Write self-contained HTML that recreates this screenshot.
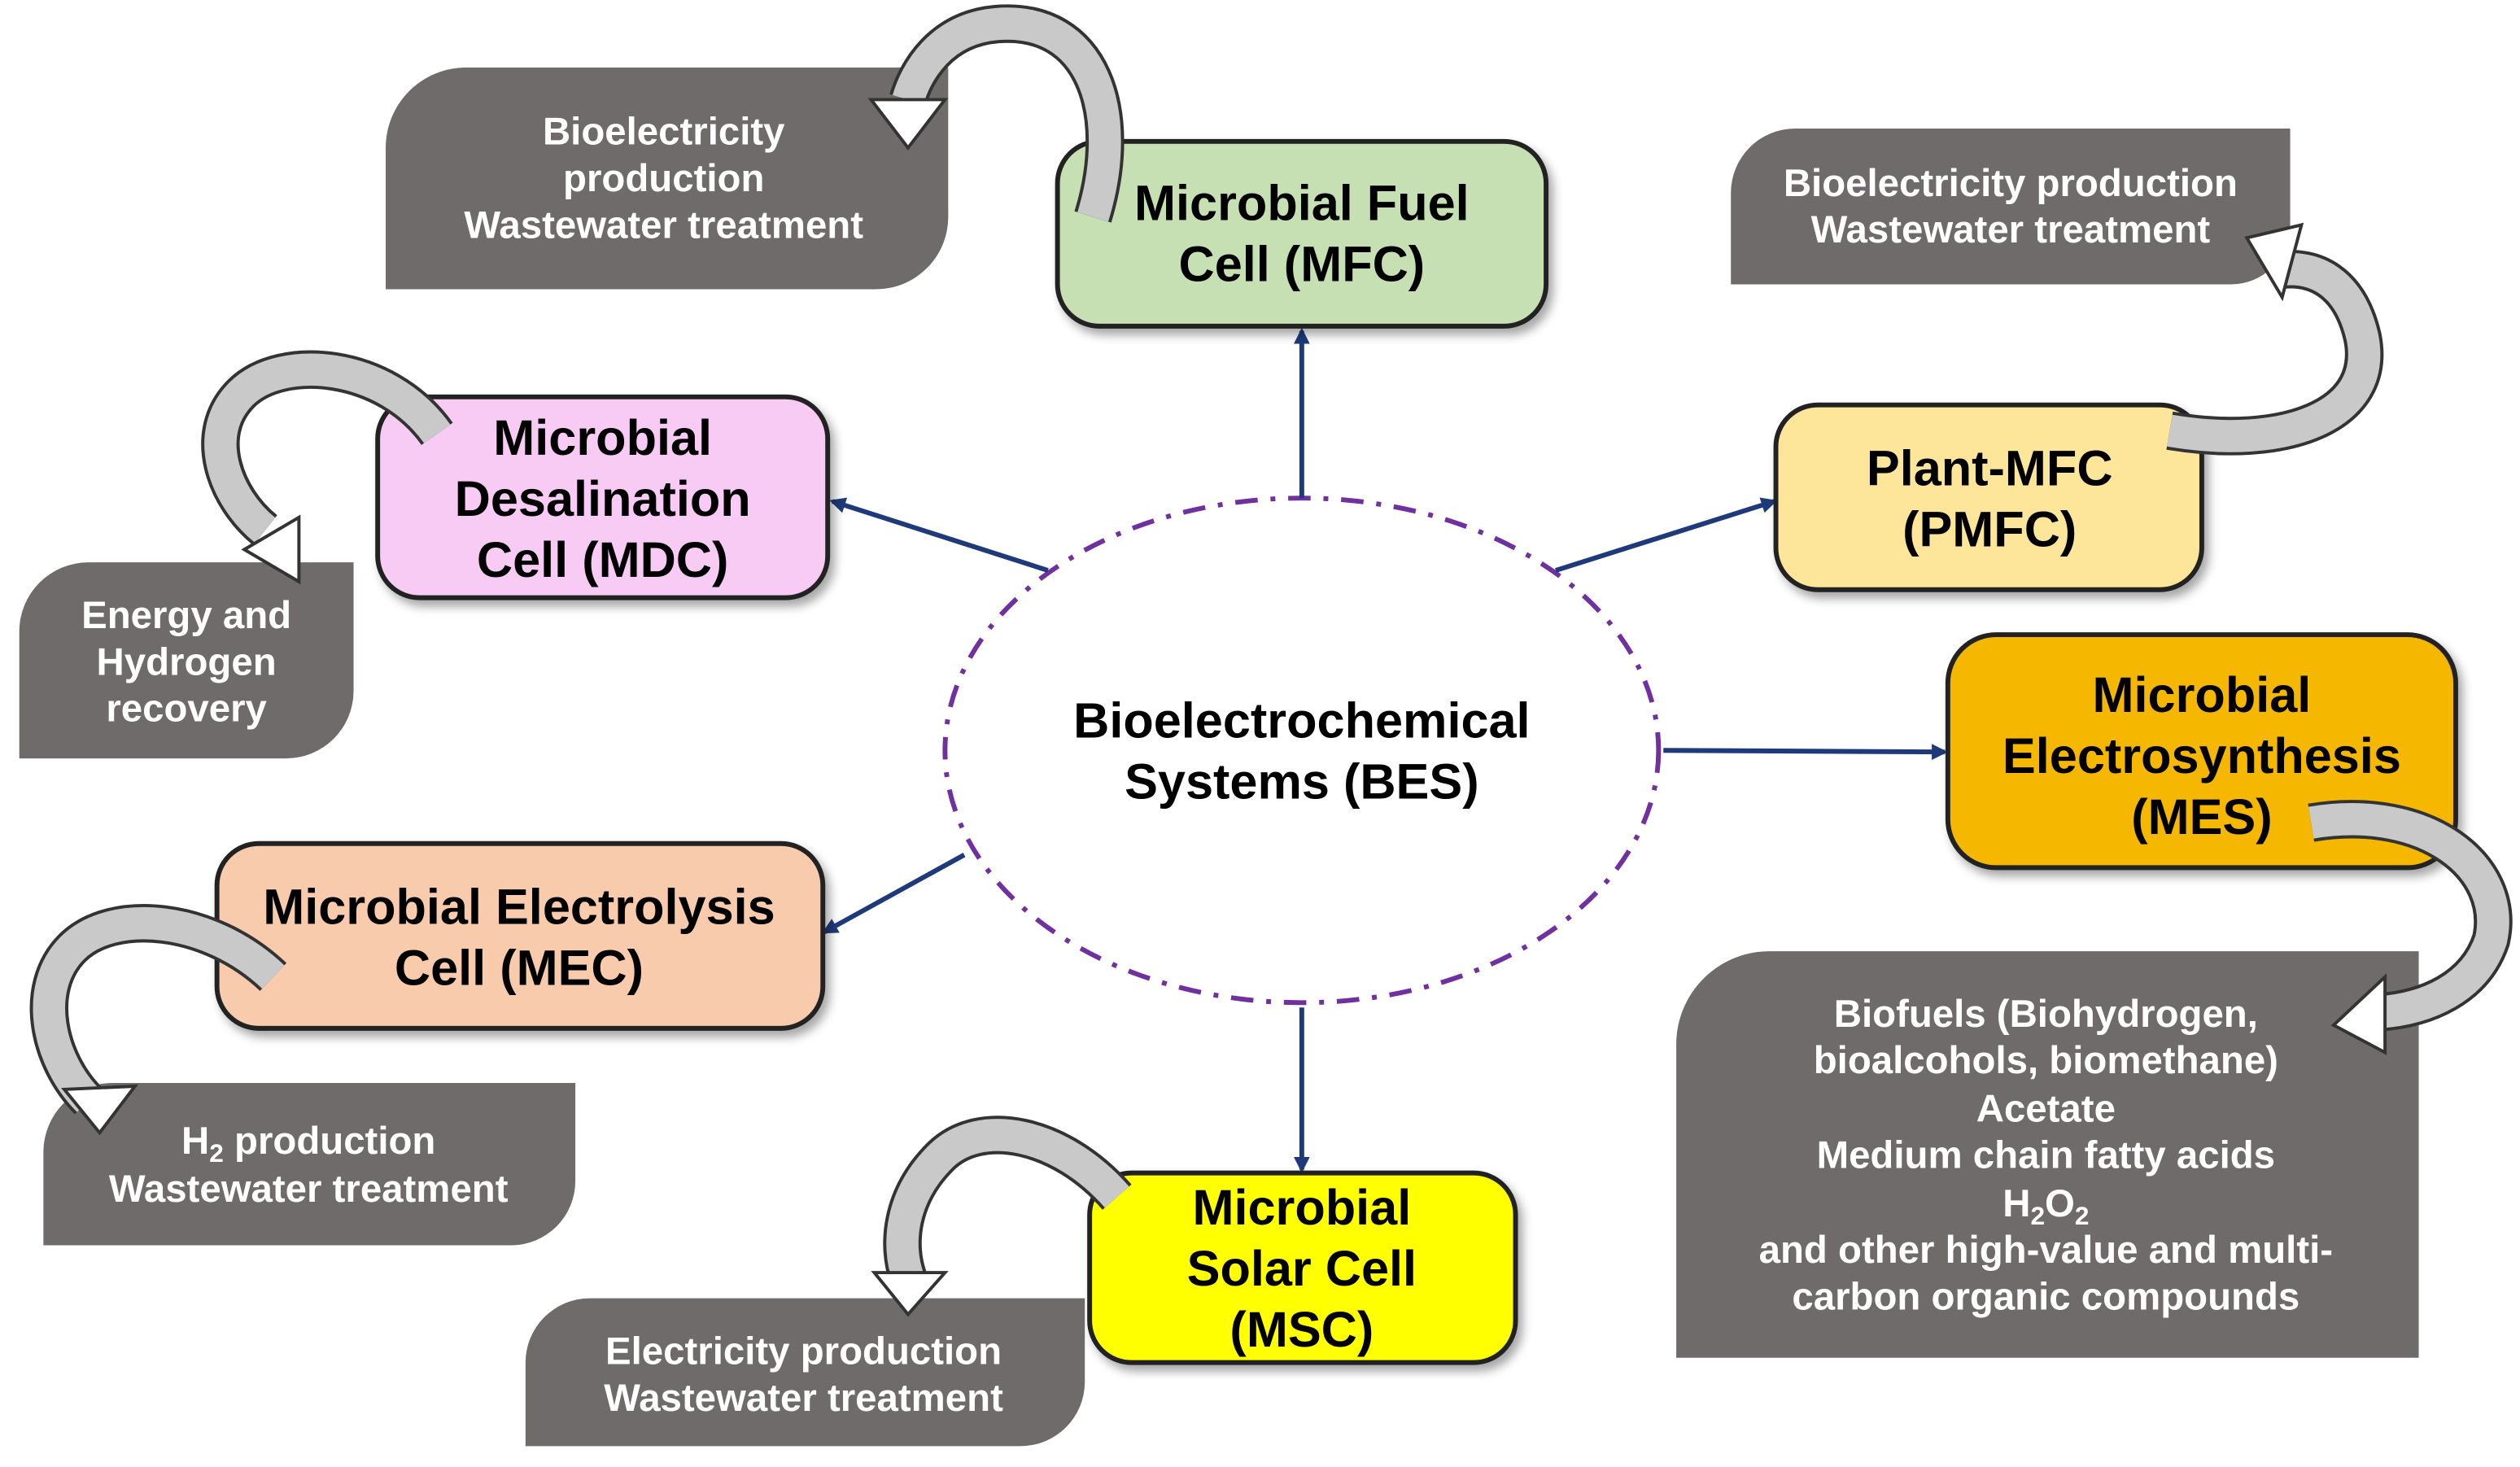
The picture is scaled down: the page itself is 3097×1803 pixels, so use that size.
<!DOCTYPE html>
<html><head><meta charset="utf-8">
<style>
html,body{margin:0;padding:0;background:#fff;}
svg{display:block;}
text{font-family:"Liberation Sans",Arial,sans-serif;font-weight:bold;}
.w{fill:#fff;font-size:24px;text-anchor:middle;}
.b{fill:#000;font-size:31px;text-anchor:middle;}
.box{stroke:#222;stroke-width:3;}
.g{fill:#6f6b6b;}
.ar{stroke:#1f3a7a;stroke-width:3;fill:none;marker-end:url(#ah);}
.cb{fill:none;stroke:#333;stroke-width:24;}
.cf{fill:none;stroke:#c9c9c9;stroke-width:20;}
.hd{fill:#fff;stroke:#333;stroke-width:2;}
</style></head><body>
<svg width="3097" height="1803" viewBox="0 0 1568 913" preserveAspectRatio="none" xmlns="http://www.w3.org/2000/svg">
<defs>
<marker id="ah" markerWidth="10" markerHeight="10" refX="8" refY="5" orient="auto" markerUnits="userSpaceOnUse">
<path d="M0,0 L10,5 L0,10 z" fill="#1f3a7a"/></marker>
<filter id="sh" x="-10%" y="-10%" width="130%" height="130%"><feDropShadow dx="3" dy="4" stdDeviation="3" flood-opacity="0.35"/></filter>
</defs>

<path class="g" d="M290,42 H590 V135 A45,45 0 0 1 545,180 H240 V92 A50,50 0 0 1 290,42 Z"/>
<text class="w" x="413" y="90">Bioelectricity</text>
<text class="w" x="413" y="119">production</text>
<text class="w" x="413" y="148">Wastewater treatment</text>

<path class="g" d="M55,350 H220 V430 A42,42 0 0 1 178,472 H12 V393 A43,43 0 0 1 55,350 Z"/>
<text class="w" x="116" y="391">Energy and</text>
<text class="w" x="116" y="420">Hydrogen</text>
<text class="w" x="116" y="449">recovery</text>

<path class="g" d="M1117,80 H1425 V140 A37,37 0 0 1 1388,177 H1077 V120 A40,40 0 0 1 1117,80 Z"/>
<text class="w" x="1251" y="122">Bioelectricity production</text>
<text class="w" x="1251" y="151">Wastewater treatment</text>

<path class="g" d="M1100,592 H1505 V845 H1043 V650 A58,58 0 0 1 1100,592 Z"/>
<text class="w" x="1273" y="639">Biofuels (Biohydrogen,</text>
<text class="w" x="1273" y="668">bioalcohols, biomethane)</text>
<text class="w" x="1273" y="698">Acetate</text>
<text class="w" x="1273" y="727">Medium chain fatty acids</text>
<text class="w" x="1273" y="757">H<tspan font-size="16" dy="5">2</tspan><tspan dy="-5">O</tspan><tspan font-size="16" dy="5">2</tspan></text>
<text class="w" x="1273" y="786">and other high-value and  multi-</text>
<text class="w" x="1273" y="815">carbon organic compounds</text>

<path class="g" d="M70,674 H358 V735 A40,40 0 0 1 318,775 H27 V717 A43,43 0 0 1 70,674 Z"/>
<text class="w" x="192" y="718">H<tspan font-size="16" dy="5">2</tspan><tspan dy="-5"> production</tspan></text>
<text class="w" x="192" y="748">Wastewater treatment</text>

<path class="g" d="M367,808 H675 V860 A40,40 0 0 1 635,900 H327 V848 A40,40 0 0 1 367,808 Z"/>
<text class="w" x="500" y="849">Electricity production</text>
<text class="w" x="500" y="878">Wastewater treatment</text>

<ellipse cx="810" cy="467" rx="222" ry="157" fill="none" stroke="#7030a0" stroke-width="3" stroke-dasharray="14,8,3,8"/>
<text class="b" x="810" y="459">Bioelectrochemical</text>
<text class="b" x="810" y="497">Systems (BES)</text>

<line class="ar" x1="810" y1="310" x2="810" y2="206"/>
<line class="ar" x1="652" y1="355" x2="518" y2="312"/>
<line class="ar" x1="968" y1="355" x2="1104" y2="312"/>
<line class="ar" x1="1035" y1="467" x2="1210" y2="468"/>
<line class="ar" x1="600" y1="532" x2="513" y2="580"/>
<line class="ar" x1="810" y1="627" x2="810" y2="728"/>

<rect class="box" filter="url(#sh)" x="658" y="88" width="304" height="115" rx="26" fill="#c6e0b4"/>
<text class="b" x="810" y="137">Microbial Fuel</text>
<text class="b" x="810" y="175">Cell (MFC)</text>

<rect class="box" filter="url(#sh)" x="235" y="247" width="280" height="125" rx="26" fill="#f8cbf5"/>
<text class="b" x="375" y="283">Microbial</text>
<text class="b" x="375" y="321">Desalination</text>
<text class="b" x="375" y="359">Cell (MDC)</text>

<rect class="box" filter="url(#sh)" x="1105" y="252" width="265" height="115" rx="26" fill="#fde59a"/>
<text class="b" x="1238" y="302">Plant-MFC</text>
<text class="b" x="1238" y="340">(PMFC)</text>

<rect class="box" filter="url(#sh)" x="1212" y="395" width="316" height="145" rx="30" fill="#f5b700"/>
<text class="b" x="1370" y="443">Microbial</text>
<text class="b" x="1370" y="481">Electrosynthesis</text>
<text class="b" x="1370" y="519">(MES)</text>

<rect class="box" filter="url(#sh)" x="135" y="525" width="377" height="115" rx="26" fill="#f8cbad"/>
<text class="b" x="323" y="575">Microbial Electrolysis</text>
<text class="b" x="323" y="613">Cell (MEC)</text>

<rect class="box" filter="url(#sh)" x="678" y="730" width="265" height="118" rx="26" fill="#ffff00"/>
<text class="b" x="810" y="762">Microbial</text>
<text class="b" x="810" y="800">Solar Cell</text>
<text class="b" x="810" y="838">(MSC)</text>

<path class="cb" d="M680,135 C700,70 680,10 620,15 C585,18 570,45 565,62"/>
<path class="cf" d="M680,135 C700,70 680,10 620,15 C585,18 570,45 565,62"/>
<polygon class="hd" points="542,62 588,62 565,92"/>

<path class="cb" d="M272,270 C240,225 175,220 150,245 C125,270 140,310 165,330"/>
<path class="cf" d="M272,270 C240,225 175,220 150,245 C125,270 140,310 165,330"/>
<polygon class="hd" points="152,342 186,322 186,362"/>

<path class="cb" d="M1350,268 C1420,280 1480,260 1470,210 C1462,175 1440,165 1418,168"/>
<path class="cf" d="M1350,268 C1420,280 1480,260 1470,210 C1462,175 1440,165 1418,168"/>
<polygon class="hd" points="1398,148 1432,140 1420,185"/>

<path class="cb" d="M1438,512 C1510,500 1560,540 1550,585 C1540,615 1510,628 1480,630"/>
<path class="cf" d="M1438,512 C1510,500 1560,540 1550,585 C1540,615 1510,628 1480,630"/>
<polygon class="hd" points="1452,638 1484,608 1484,655"/>

<path class="cb" d="M170,608 C130,570 70,565 45,590 C20,615 30,660 55,685"/>
<path class="cf" d="M170,608 C130,570 70,565 45,590 C20,615 30,660 55,685"/>
<polygon class="hd" points="62,705 40,678 84,676"/>

<path class="cb" d="M695,745 C660,705 610,695 585,720 C560,745 558,775 565,795"/>
<path class="cf" d="M695,745 C660,705 610,695 585,720 C560,745 558,775 565,795"/>
<polygon class="hd" points="565,818 544,792 588,792"/>
</svg>
</body></html>
